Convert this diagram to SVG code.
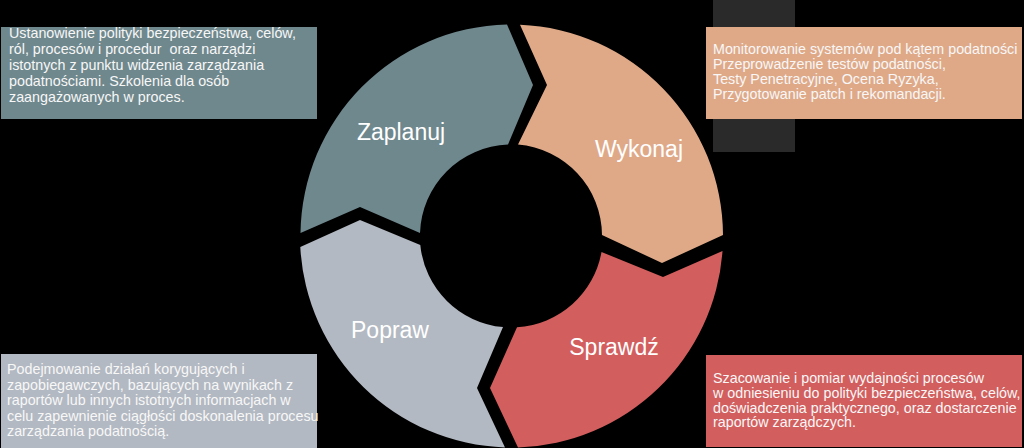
<svg xmlns="http://www.w3.org/2000/svg" width="1024" height="448" viewBox="0 0 1024 448">
  <style>
    .lbl { font-family: "Liberation Sans", Arial, sans-serif; font-size: 23px; fill: #ffffff; text-anchor: middle; }
    .txt { font-family: "Liberation Sans", Arial, sans-serif; font-size: 14.3px; fill: #f7f7f7; white-space: pre; }
  </style>
  <rect x="0" y="0" width="1024" height="448" fill="#000000"/>
  <rect x="713" y="0" width="82" height="152" fill="#2a2a2a"/>

  <g id="ring">
    <g id="zaplanuj">
      <path d="M 300.5,233 L 360,207 L 420,233 A 91.5 91.5 0 0 1 508,144.5 L 533,85 L 507,24.5 A 211.5 211.5 0 0 0 300.5,233 Z" fill="#6f888d"/>
      <text class="lbl" x="401" y="140">Zaplanuj</text>
    </g>
    <g id="wykonaj">
      <path d="M 518,144.5 L 547,85 L 520,24.7 A 211.5 211.5 0 0 1 723,235 L 662,263 L 602,235 A 91.5 91.5 0 0 0 518,144.5 Z" fill="#dfa988"/>
      <text class="lbl" x="639" y="157">Wykonaj</text>
    </g>
    <g id="sprawdz">
      <path d="M 601.5,252 L 663,277 L 722.5,251 A 211.5 211.5 0 0 1 518,447.4 L 490,388 L 517,327.3 A 91.5 91.5 0 0 0 601.5,252 Z" fill="#d35e5e"/>
      <text class="lbl" x="614" y="355">Sprawdź</text>
    </g>
    <g id="popraw">
      <path d="M 505,447.4 L 477,388 L 503,327.1 A 91.5 91.5 0 0 1 420.3,245 L 360,220 L 300.3,247 A 211.5 211.5 0 0 0 505,447.4 Z" fill="#b3b9c2"/>
      <text class="lbl" x="390" y="338">Popraw</text>
    </g>
  </g>

  <g id="box-plan">
    <rect x="1" y="27" width="316" height="92" fill="#6f888d"/>
    <text class="txt" x="9" y="38">
      <tspan x="9" y="38">Ustanowienie polityki bezpieczeństwa, celów,</tspan>
      <tspan x="9" y="54">ról, procesów i procedur  oraz narządzi</tspan>
      <tspan x="9" y="70">istotnych z punktu widzenia zarządzania</tspan>
      <tspan x="9" y="86">podatnościami. Szkolenia dla osób</tspan>
      <tspan x="9" y="102">zaangażowanych w proces.</tspan>
    </text>
  </g>

  <g id="box-do">
    <rect x="706" y="27" width="316" height="92" fill="#dfa988"/>
    <text class="txt" x="713" y="54">
      <tspan x="713" y="54">Monitorowanie systemów pod kątem podatności</tspan>
      <tspan x="713" y="69">Przeprowadzenie testów podatności,</tspan>
      <tspan x="713" y="84">Testy Penetracyjne, Ocena Ryzyka,</tspan>
      <tspan x="713" y="99">Przygotowanie patch i rekomandacji.</tspan>
    </text>
  </g>

  <g id="box-act">
    <rect x="1" y="354" width="316" height="94" fill="#b3b9c2"/>
    <text class="txt" x="7" y="374">
      <tspan x="7" y="374">Podejmowanie działań korygujących i</tspan>
      <tspan x="7" y="390">zapobiegawczych, bazujących na wynikach z</tspan>
      <tspan x="7" y="405">raportów lub innych istotnych informacjach w</tspan>
      <tspan x="7" y="421">celu zapewnienie ciągłości doskonalenia procesu</tspan>
      <tspan x="7" y="436">zarządzania podatnością.</tspan>
    </text>
  </g>

  <g id="box-check">
    <rect x="706" y="355" width="316" height="92" fill="#d35e5e"/>
    <text class="txt" x="713" y="383">
      <tspan x="713" y="383">Szacowanie i pomiar wydajności procesów</tspan>
      <tspan x="713" y="398">w odniesieniu do polityki bezpieczeństwa, celów,</tspan>
      <tspan x="713" y="412.5">doświadczenia praktycznego, oraz dostarczenie</tspan>
      <tspan x="713" y="427">raportów zarządczych.</tspan>
    </text>
  </g>

  <g id="connectors"></g>
</svg>
